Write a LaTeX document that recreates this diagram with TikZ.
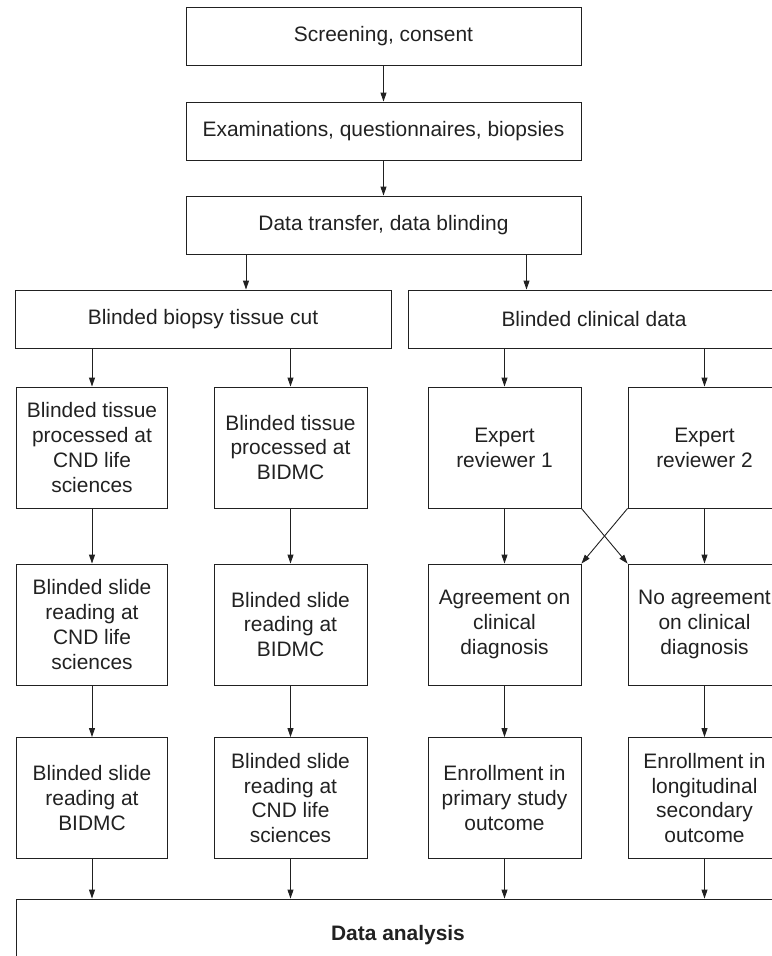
\documentclass[tikz,border=0pt]{standalone}
\usepackage{fontspec}
\setmainfont{Liberation Sans}
\usetikzlibrary{arrows.meta}
\definecolor{ink}{gray}{0.13}
\tikzstyle{boxw}=[draw=ink,text=ink,line width=0.9bp,inner sep=0pt,align=center,font=\fontsize{21}{25}\selectfont]
\tikzstyle{cell}=[boxw,minimum width=153bp,minimum height=121bp]
\tikzstyle{arr}=[draw=ink,line width=0.9bp,-{Triangle[length=9bp,width=6bp]}]

\begin{document}
\begin{tikzpicture}[x=1bp,y=-1bp]
    \clip (0,0) rectangle (772,956);
    % top of the flow
    \node[boxw,minimum width=395bp,minimum height=58bp] (scr) at (383.5,36)  {Screening, consent};
    \node[boxw,minimum width=395bp,minimum height=58bp] (exq) at (383.5,131) {Examinations, questionnaires, biopsies};
    \node[boxw,minimum width=395bp,minimum height=58bp] (dat) at (383.5,225) {Data transfer, data blinding};
    \node[boxw,minimum width=376bp,minimum height=58bp] (bio) at (203,319) {Blinded biopsy tissue cut};
    \node[boxw,minimum width=372bp,minimum height=58bp] (cli) at (594,319) {Blinded clinical data};

    % four columns
    \node[cell,minimum width=151bp] (t1) at (92,447.5)  {Blinded tissue\\processed at\\CND life\\sciences};
    \node[cell] (t2) at (290.5,447.5) {Blinded tissue\\processed at\\BIDMC};
    \node[cell] (ex1) at (504.5,447.5) {Expert\\reviewer 1};
    \node[cell] (ex2) at (704.5,447.5) {Expert\\reviewer 2};

    \node[cell,minimum width=151bp] (s1) at (92,624.5)  {Blinded slide\\reading at\\CND life\\sciences};
    \node[cell] (s2) at (290.5,624.5) {Blinded slide\\reading at\\BIDMC};
    \node[cell] (agr) at (504.5,624.5) {Agreement on\\clinical\\diagnosis};
    \node[cell] (noag) at (704.5,624.5) {No agreement\\on clinical\\diagnosis};

    \node[cell,minimum width=151bp] (r1) at (92,798)  {Blinded slide\\reading at\\BIDMC};
    \node[cell] (r2) at (290.5,798) {Blinded slide\\reading at\\CND life\\sciences};
    \node[cell] (enp) at (504.5,798) {Enrollment in\\primary study\\outcome};
    \node[cell] (enl) at (704.5,798) {Enrollment in\\longitudinal\\secondary\\outcome};

    \node[boxw,minimum width=764bp,minimum height=72bp,font=\fontsize{21}{25}\selectfont\bfseries] (ana) at (398,935) {Data analysis};

    \path ([xshift=-137.5bp]dat.south) coordinate (d1);
    \path ([xshift=143bp]dat.south) coordinate (d2);

    \foreach \from/\to in {scr/exq,exq/dat,t1/s1,s1/r1,t2/s2,s2/r2,ex1/agr,ex2/noag,agr/enp,noag/enl}
    \draw[arr] (\from) -- (\to);
    \draw[arr] (d1) -- (d1 |- bio.north);
    \draw[arr] (d2) -- (d2 |- cli.north);
    \foreach \n in {t1,t2}
    \draw[arr] (bio.south -| \n.north) -- (\n.north);
    \foreach \n in {ex1,ex2}
    \draw[arr] (cli.south -| \n.north) -- (\n.north);
    \draw[arr] (ex1.south east) -- (noag.north west);
    \draw[arr] (ex2.south west) -- (agr.north east);
    \foreach \n in {r1,r2,enp,enl}
    \draw[arr] (\n.south) -- (\n.south |- ana.north);
\end{tikzpicture}
\end{document}
